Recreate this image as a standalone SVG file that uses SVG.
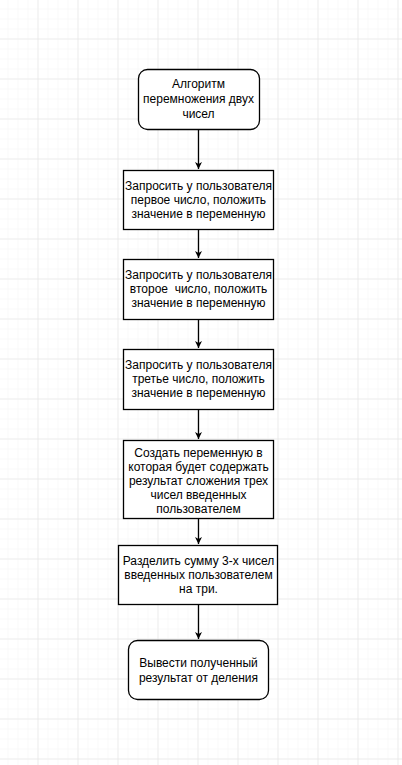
<svg xmlns="http://www.w3.org/2000/svg" width="402" height="765" viewBox="0 0 402 765">
<defs>
<pattern id="minor" x="-1.5" y="-0.5" width="10" height="10" patternUnits="userSpaceOnUse">
<path d="M10 0V10M0 10H10" fill="none" stroke="#f2f2f2" stroke-width="1"/>
</pattern>
<pattern id="major" x="-1.5" y="-0.5" width="40" height="40" patternUnits="userSpaceOnUse">
<path d="M40 0V40M0 40H40" fill="none" stroke="#e0e0e0" stroke-width="1"/>
</pattern>
<marker id="arr" viewBox="0 0 10 10" refX="10" refY="5" markerWidth="7" markerHeight="7" markerUnits="userSpaceOnUse" orient="auto">
<path d="M0 0L10 5L0 10L3 5Z" fill="#000"/>
</marker>
<style>
.box{fill:#fff;stroke:#000;stroke-width:1.3}
.t{font-family:"Liberation Sans",Arial,sans-serif;font-size:12px;fill:#000;text-anchor:middle}
.c{stroke:#000;stroke-width:1.3;fill:none}
</style>
</defs>
<rect width="402" height="765" fill="#fff"/>
<rect width="402" height="765" fill="url(#minor)"/>
<rect width="402" height="765" fill="url(#major)"/>

<g id="connectors">
<line class="c" x1="198.5" y1="129" x2="198.5" y2="169" marker-end="url(#arr)"/>
<line class="c" x1="198.5" y1="229" x2="198.5" y2="258" marker-end="url(#arr)"/>
<line class="c" x1="198.5" y1="319" x2="198.5" y2="348" marker-end="url(#arr)"/>
<line class="c" x1="198.5" y1="409" x2="198.5" y2="439" marker-end="url(#arr)"/>
<line class="c" x1="198.5" y1="518" x2="198.5" y2="544" marker-end="url(#arr)"/>
<line class="c" x1="198.5" y1="604" x2="198.5" y2="639" marker-end="url(#arr)"/>
</g>

<g id="start">
<rect class="box" x="138.5" y="69.5" width="121" height="60" rx="9"/>
<text class="t" x="198.5" y="88">Алгоритм</text>
<text class="t" x="198.5" y="103">перемножения двух</text>
<text class="t" x="198.5" y="118">чисел</text>
</g>

<g id="step1">
<rect class="box" x="123.5" y="170.5" width="150" height="59"/>
<text class="t" x="198.5" y="190">Запросить у пользователя</text>
<text class="t" x="198.5" y="204">первое число, положить</text>
<text class="t" x="198.5" y="218">значение в переменную</text>
</g>

<g id="step2">
<rect class="box" x="123.5" y="259.5" width="150" height="60"/>
<text class="t" x="198.5" y="279">Запросить у пользователя</text>
<text class="t" x="198.5" y="293" xml:space="preserve">второе  число, положить</text>
<text class="t" x="198.5" y="307">значение в переменную</text>
</g>

<g id="step3">
<rect class="box" x="123.5" y="349.5" width="150" height="60"/>
<text class="t" x="198.5" y="369">Запросить у пользователя</text>
<text class="t" x="198.5" y="383">третье число, положить</text>
<text class="t" x="198.5" y="397">значение в переменную</text>
</g>

<g id="step4">
<rect class="box" x="123.5" y="440.5" width="150" height="78"/>
<text class="t" x="198.5" y="457">Создать переменную в</text>
<text class="t" x="198.5" y="471">которая будет содержать</text>
<text class="t" x="198.5" y="485">результат сложения трех</text>
<text class="t" x="198.5" y="499">чисел введенных</text>
<text class="t" x="198.5" y="513">пользователем</text>
</g>

<g id="step5">
<rect class="box" x="118.5" y="545.5" width="159" height="59"/>
<text class="t" x="198.5" y="565">Разделить сумму 3-х чисел</text>
<text class="t" x="198.5" y="579">введенных пользователем</text>
<text class="t" x="198.5" y="593">на три.</text>
</g>

<g id="end">
<rect class="box" x="128.5" y="640.5" width="140" height="59" rx="9"/>
<text class="t" x="198.5" y="667">Вывести полученный</text>
<text class="t" x="198.5" y="682">результат от деления</text>
</g>
</svg>
